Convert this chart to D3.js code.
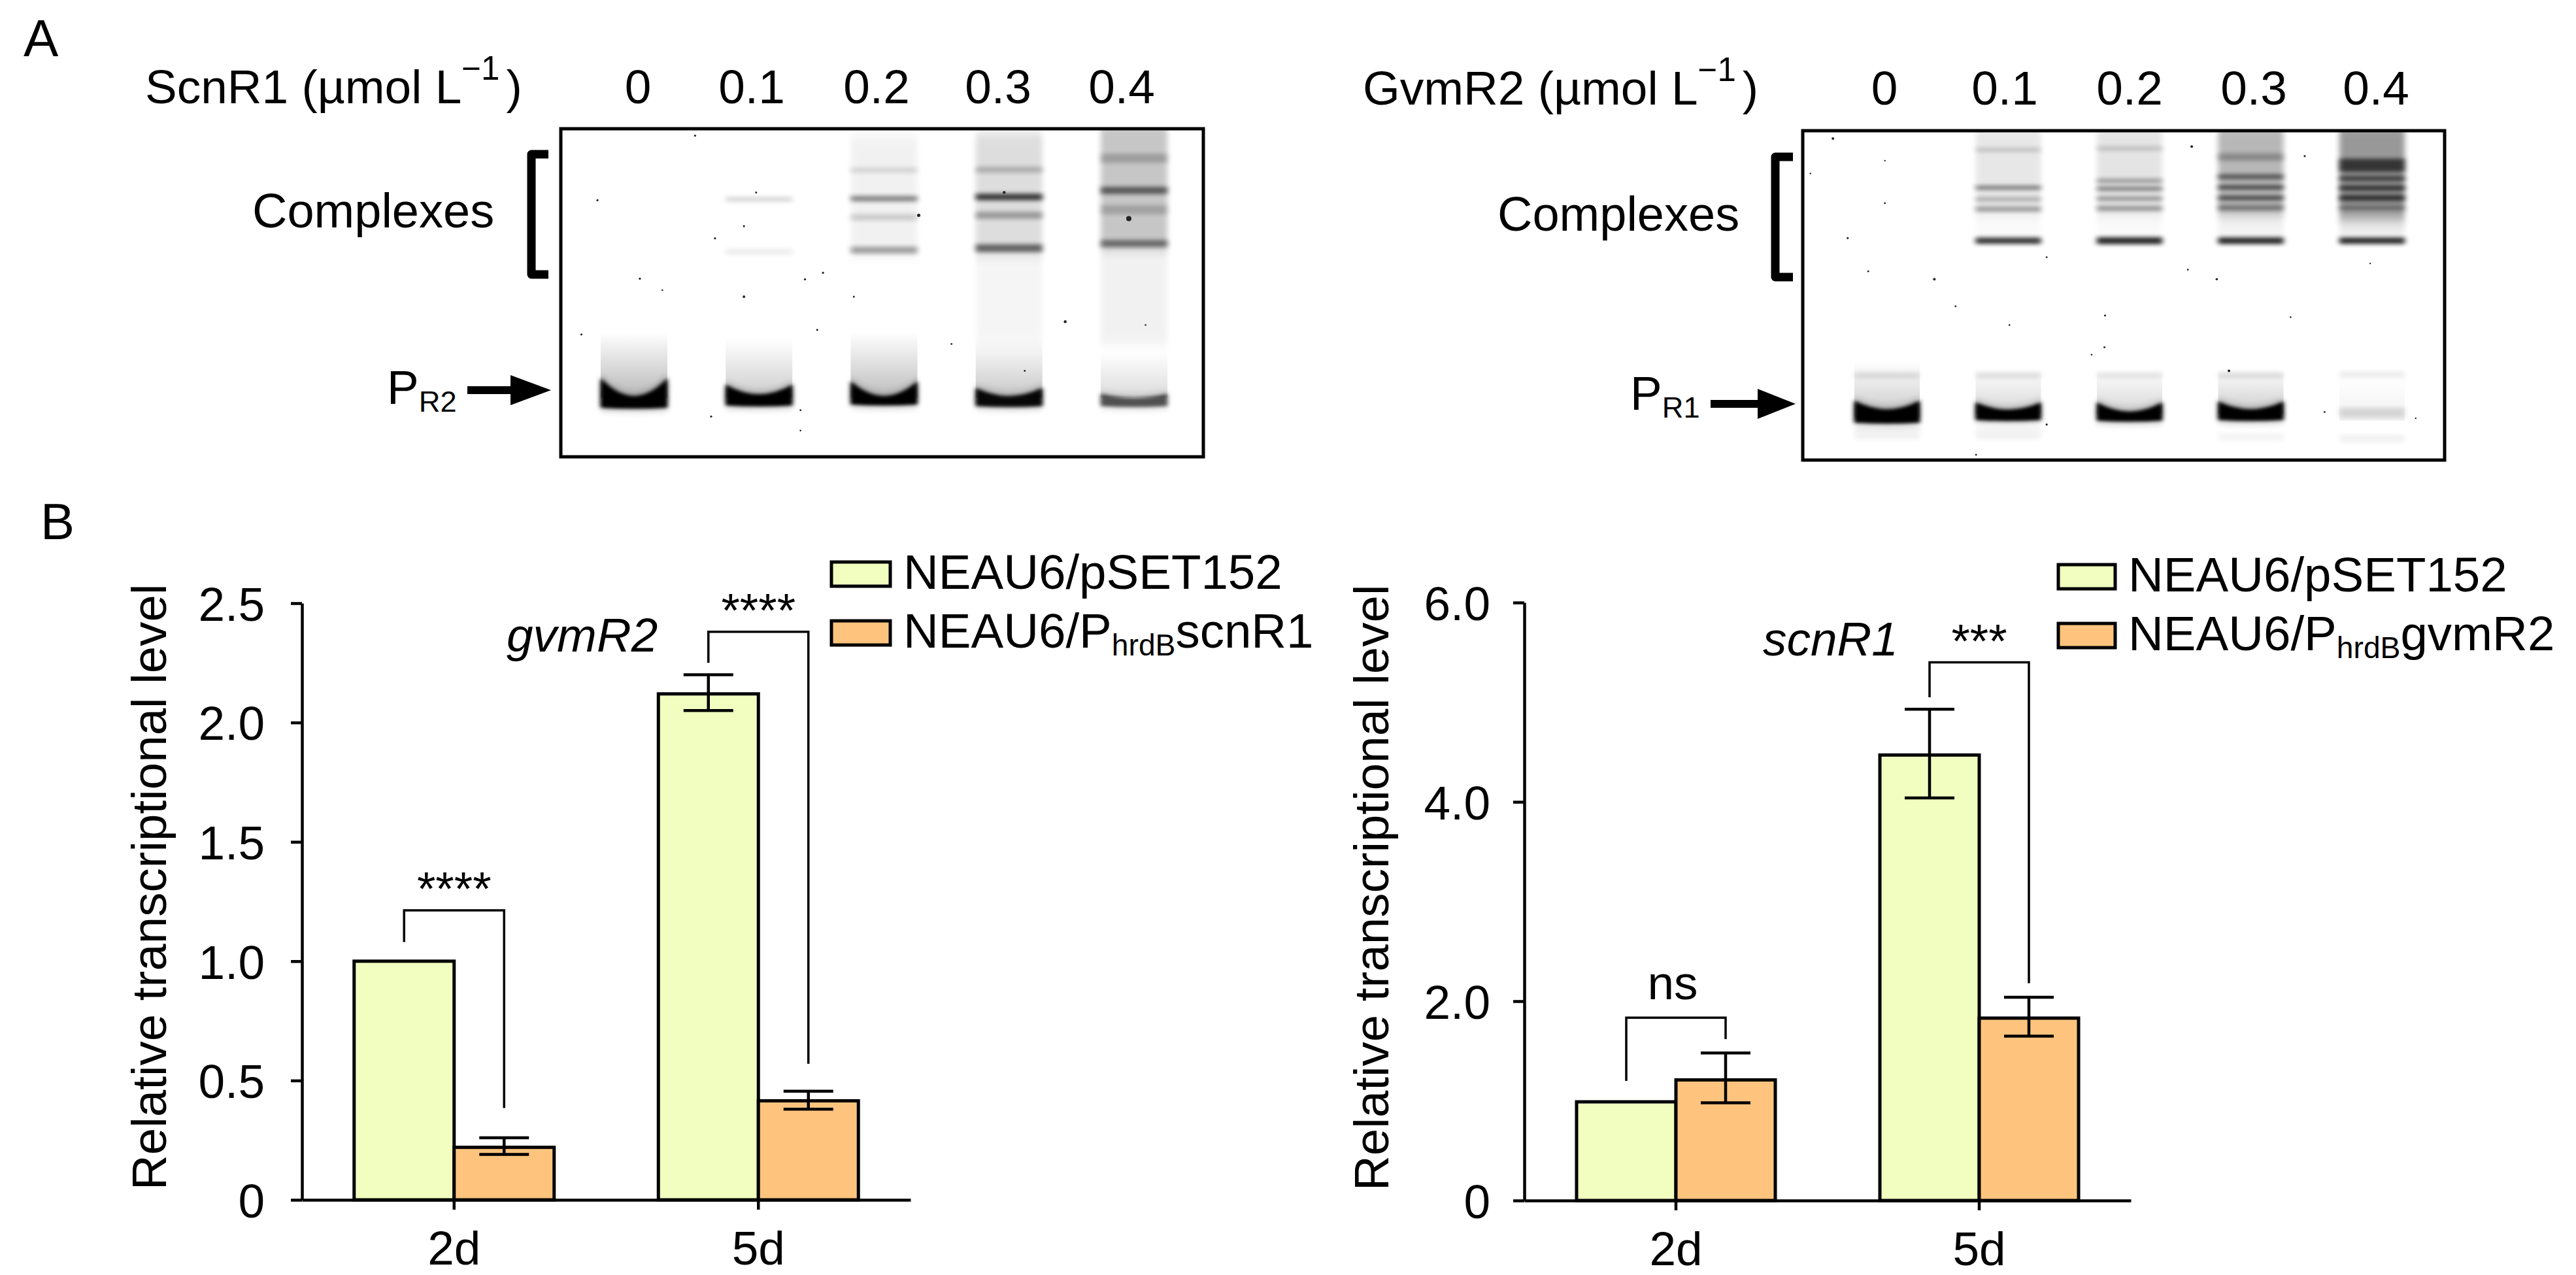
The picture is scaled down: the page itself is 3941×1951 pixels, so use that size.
<!DOCTYPE html>
<html>
<head>
<meta charset="utf-8">
<script src="https://cdn.jsdelivr.net/npm/d3@7"></script>
<style>
  body { margin: 0; background: #fff; }
  text { font-family: "Liberation Sans", Arial, sans-serif; fill: #000; }
</style>
</head>
<body>
<div id="chart"></div>
<script>
// ---- gel lanes
const concentrations = ["0", "0.1", "0.2", "0.3", "0.4"];

// band rows: lane, position (% of gel height), thickness (%), darkness
const gel1Bands = [
  [1, 21.5, 1.6, .14], [1, 37.5, 1.8, .07],
  [2, 12.6, 1.6, .12], [2, 21.3, 1.7, .45], [2, 27, 2, .15], [2, 37, 2.2, .33],
  [3, 12.5, 1.8, .22], [3, 20.8, 2, .75], [3, 26.4, 2.2, .3], [3, 36.4, 2.4, .55],
  [4, 9, 2.8, .2], [4, 18.8, 2.2, .55], [4, 24.7, 2.8, .18], [4, 35, 2.2, .48]
];
const gel2Bands = [
  [1, 5.8, 1.3, .16], [1, 17.3, 1.2, .5], [1, 20.8, 1.3, .26], [1, 23.8, 1.5, .35], [1, 33.4, 1.9, .8],
  [2, 5.4, 1.3, .16], [2, 15.2, 1.1, .38], [2, 17.6, 1.2, .48], [2, 20.6, 1.2, .38], [2, 23.6, 1.5, .36], [2, 33.4, 2.1, .85],
  [3, 8, 2.2, .25], [3, 14, 1.5, .55], [3, 17.2, 1.3, .65], [3, 20.4, 1.3, .65], [3, 23.4, 1.6, .4], [3, 33.4, 2, .85],
  [4, 10.5, 4, .65], [4, 14.5, 1.6, .6], [4, 17.4, 1.6, .7], [4, 20.4, 1.8, .7], [4, 23.4, 1.4, .35], [4, 33.4, 1.9, .85],
  [0, 74.3, 1.8, .1], [1, 74.3, 1.8, .1], [2, 74.3, 1.8, .08], [3, 74.3, 1.8, .1], [4, 74, 2, .07],
  [4, 85.6, 3, .13], [4, 93.5, 2.4, .05],
  [0, 92, 3.4, .05], [1, 92, 3.4, .05], [3, 93, 2.4, .04]
];

// smears: lane, top %, bottom %, darkness
const gel1Smears = [
  [2, 2, 39, .05], [3, 1, 39, .13], [3, 39, 66, .035], [4, -2, 37, .22], [4, 37, 66, .05]
];
const gel2Smears = [
  [1, -2, 26, .09], [2, -2, 26, .1], [3, -2, 26, .28], [4, -2, 27, .4],
  [1, 27, 33, .02], [2, 27, 33, .02], [3, 27, 33, .05], [4, 27, 33, .07]
];

// haze fading upward from the free probe: lane, top %, bottom %, darkness at the bottom
const gel1Halo = [[0, 62, 82, .28], [1, 64, 82, .2], [2, 62, 82, .26], [3, 64, 82, .22], [4, 68, 82, .14]];
const gel2Halo = [[0, 70, 87, .22], [1, 72, 86, .16], [2, 72, 86, .16], [3, 72, 86, .2], [4, 74, 88, .05]];

// main free-probe band: lane, top %, bottom %, dip of the top edge %, darkness
const gel1Free = [[0, 76, 85, 5.5, 1], [1, 78, 84.3, 3, 1], [2, 77, 84, 4.5, 1], [3, 79, 84.5, 2.5, .95], [4, 80.8, 84.5, 1.2, .6]];
const gel2Free = [[0, 82, 88.6, 2.6, 1], [1, 82.5, 87.8, 2.2, 1], [2, 82.5, 88, 2.8, 1], [3, 82.2, 87.8, 2.4, 1]];

// dust on the scans: x %, y %, radius
const gel1Specks = [[20.9,2.1,1.6],[5.7,21.8,1.6],[24,33.4,1.6],[28.5,29.7,1.6],[55.7,26.4,2.5],[88.4,27.4,4],[12.3,45.7,1.6],[38,45.9,1.6],[40.8,43.9,1.6],[15.8,49.2,1.3],[28.5,51.2,2],[45.6,51.2,1.5],[39.9,61.3,1.6],[3.2,62.7,1.6],[60.8,65.6,1.4],[78.5,58.8,2.2],[23.4,87.7,1.6],[37.3,85.8,1.4],[37.3,92,1.3],[69,19.4,2.2],[30.4,19.4,1.5],[72.2,73.8,1.4],[91,59.8,1.3]];
const gel2Specks = [[4.7,2.4,2],[12.8,9.1,1.2],[1.2,13,1.2],[12.8,22,1.4],[7,32.6,1.6],[60.6,4.8,2],[78.2,7.7,1.6],[20.5,45.1,2],[10.2,42.7,1.4],[38,38.4,1.4],[64.5,45.1,1.8],[47.1,56.1,1.6],[23.8,53.3,1.4],[32.2,59,1.3],[47,65.7,1.5],[66.4,72.9,2],[81.3,85.4,1.4],[38,89.2,1.6],[27,98.4,1.4],[95.5,87.3,1.2],[76,56.6,1.3],[45,68,1.3],[60,42.2,1.4],[88.4,40.3,1.2]];

// ---- bar charts
const days = ["2d", "5d"];
const seriesKeys = ["control", "over"];

const gvmControl = [1.0, 2.12];
const gvmControlHi = [null, 2.2];
const gvmControlLo = [null, 2.05];
const gvmOver = [0.22, 0.415];
const gvmOverHi = [0.26, 0.455];
const gvmOverLo = [0.19, 0.38];
const gvmTicks = [0, 0.5, 1.0, 1.5, 2.0, 2.5];
const gvmSig = ["****", "****"];
const gvmBracketTop = [1.213, 2.38];
const gvmBracketLeft = [1.08, 2.25];
const gvmBracketRight = [0.385, 0.57];

const scnControl = [0.99, 4.47];
const scnControlHi = [null, 4.93];
const scnControlLo = [null, 4.04];
const scnOver = [1.21, 1.83];
const scnOverHi = [1.48, 2.04];
const scnOverLo = [0.98, 1.65];
const scnTicks = [0, 2.0, 4.0, 6.0];
const scnSig = ["ns", "***"];
const scnBracketTop = [1.835, 5.4];
const scnBracketLeft = [1.2, 5.05];
const scnBracketRight = [1.62, 2.18];

const colorControl = "#f1fec0";
const colorOver = "#fec47e";
const fs = 73;

const svg = d3.select("#chart").append("svg")
  .attr("width", 3941).attr("height", 1951)
  .style("display", "block");

const defs = svg.append("defs");
[["blurBand", "4 3"], ["blurSmear", "4 9"], ["blurFree", "3 2.5"], ["blurFreeSoft", "5 7"]].forEach(function (b) {
  defs.append("filter").attr("id", b[0])
    .attr("x", "-30%").attr("y", "-300%").attr("width", "160%").attr("height", "700%")
    .append("feGaussianBlur").attr("stdDeviation", b[1]);
});
const fade = defs.append("linearGradient").attr("id", "fadeUp").attr("x1", 0).attr("x2", 0).attr("y1", 0).attr("y2", 1);
fade.append("stop").attr("offset", "0%").attr("stop-color", "#000").attr("stop-opacity", 0);
fade.append("stop").attr("offset", "100%").attr("stop-color", "#000").attr("stop-opacity", 1);

// text with sub / superscript runs, parts are [string, "sub" | "sup" | undefined]
function richText(x, y, parts, size, anchor, italic) {
  const t = svg.append("text").attr("x", x).attr("y", y)
    .attr("font-size", size).attr("text-anchor", anchor || "start")
    .attr("font-style", italic ? "italic" : "normal");
  let shift = 0;
  parts.forEach(function (p) {
    const target = p[1] === "sub" ? size * 0.16 : p[1] === "sup" ? -size * 0.5 : 0;
    t.append("tspan").attr("dy", target - shift)
      .attr("font-size", p[1] === "sup" ? size * 0.7 : p[1] ? size * 0.62 : size)
      .text(p[0]);
    shift = target;
  });
  return t;
}

function drawGel(cfg) {
  const g = svg.append("g");
  const x = d3.scalePoint().domain(d3.range(5)).range(cfg.lanes);
  const xPct = d3.scaleLinear().domain([0, 100]).range([cfg.x0, cfg.x1]);
  const y = d3.scaleLinear().domain([0, 100]).range([cfg.y0, cfg.y1]);
  const laneW = cfg.laneW;

  const clipId = "clip" + cfg.x0;
  defs.append("clipPath").attr("id", clipId).append("rect")
    .attr("x", cfg.x0).attr("y", cfg.y0)
    .attr("width", cfg.x1 - cfg.x0).attr("height", cfg.y1 - cfg.y0);
  const inner = g.append("g").attr("clip-path", "url(#" + clipId + ")");

  inner.selectAll("rect.smear").data(cfg.smears).join("rect")
    .attr("class", "smear")
    .attr("x", d => x(d[0]) - laneW / 2).attr("width", laneW)
    .attr("y", d => y(d[1])).attr("height", d => y(d[2]) - y(d[1]))
    .attr("fill", "#000").attr("opacity", d => d[3])
    .attr("filter", "url(#blurSmear)");

  inner.selectAll("rect.halo").data(cfg.halo).join("rect")
    .attr("class", "halo")
    .attr("x", d => x(d[0]) - laneW / 2).attr("width", laneW)
    .attr("y", d => y(d[1])).attr("height", d => y(d[2]) - y(d[1]))
    .attr("fill", "url(#fadeUp)").attr("opacity", d => d[3]);

  inner.selectAll("rect.band").data(cfg.bands).join("rect")
    .attr("class", "band")
    .attr("x", d => x(d[0]) - laneW / 2).attr("width", laneW)
    .attr("y", d => y(d[1] - d[2] / 2)).attr("height", d => y(d[2]) - y(0))
    .attr("fill", "#000").attr("opacity", d => d[3])
    .attr("filter", "url(#blurBand)");

  const freePath = function (d) {
    const p = d3.path();
    const l = x(d[0]) - laneW / 2, r = x(d[0]) + laneW / 2, c = x(d[0]);
    p.moveTo(l, y(d[1]));
    p.quadraticCurveTo(c, y(d[1] + 2 * d[3]), r, y(d[1]));
    p.lineTo(r, y(d[2]));
    p.quadraticCurveTo(c, y(d[2] + 0.6), l, y(d[2]));
    p.closePath();
    return p.toString();
  };
  // soft skirt under the sharp band
  inner.selectAll("path.skirt").data(cfg.free).join("path")
    .attr("class", "skirt").attr("d", freePath)
    .attr("fill", "#000").attr("opacity", d => d[4] * 0.45)
    .attr("filter", "url(#blurFreeSoft)");
  inner.selectAll("path.free").data(cfg.free).join("path")
    .attr("class", "free").attr("d", freePath)
    .attr("fill", "#000").attr("opacity", d => d[4])
    .attr("filter", "url(#blurFree)");

  inner.selectAll("circle").data(cfg.specks).join("circle")
    .attr("cx", d => xPct(d[0])).attr("cy", d => y(d[1])).attr("r", d => d[2])
    .attr("fill", "#222");

  g.append("rect")
    .attr("x", cfg.x0).attr("y", cfg.y0)
    .attr("width", cfg.x1 - cfg.x0).attr("height", cfg.y1 - cfg.y0)
    .attr("fill", "none").attr("stroke", "#000").attr("stroke-width", 5);

  // concentration header
  const head = richText(cfg.titleX, cfg.labelY, [[cfg.title + " (µmol L"], ["−1", "sup"], [")"]], fs);
  head.selectAll("tspan").filter((d, i) => i === 2).attr("dx", 10);
  const lx = d3.scaleOrdinal().domain(concentrations).range(cfg.labelX);
  g.selectAll("text.conc").data(concentrations).join("text")
    .attr("class", "conc")
    .attr("x", d => lx(d)).attr("y", cfg.labelY)
    .attr("text-anchor", "middle").attr("font-size", fs)
    .text(d => d);

  // complexes label and bracket
  g.append("text").attr("x", cfg.compX).attr("y", cfg.compY).attr("font-size", 74).text("Complexes");
  g.append("path")
    .attr("d", "M" + cfg.brX1 + "," + cfg.brY0 + "H" + cfg.brX0 + "V" + cfg.brY1 + "H" + cfg.brX1)
    .attr("fill", "none").attr("stroke", "#000").attr("stroke-width", 13).attr("stroke-linejoin", "round");

  // free probe label and arrow
  richText(cfg.pX, cfg.pY, [["P"], [cfg.probe, "sub"]], fs);
  const a = cfg.arrow;
  g.append("path")
    .attr("d", "M" + a.x0 + "," + (a.y - 6) + "H" + a.xh + "V" + (a.y - 23) + "L" + a.x1 + "," + a.y +
      "L" + a.xh + "," + (a.y + 23) + "V" + (a.y + 6) + "H" + a.x0 + "Z")
    .attr("fill", "#000");
}

drawGel({
  x0: 858, x1: 1841, y0: 197, y1: 699,
  lanes: [970, 1735], laneW: 102,
  labelX: [976, 1150, 1341, 1527, 1716], labelY: 158,
  title: "ScnR1", titleX: 222,
  bands: gel1Bands, smears: gel1Smears, halo: gel1Halo, free: gel1Free, specks: gel1Specks,
  compX: 386, compY: 348,
  brX0: 813, brX1: 839, brY0: 236, brY1: 420,
  pX: 592, pY: 618, probe: "R2",
  arrow: { x0: 715, xh: 781, x1: 843, y: 597 }
});

drawGel({
  x0: 2758, x1: 3740, y0: 200, y1: 704,
  lanes: [2887, 3629], laneW: 100,
  labelX: [2883, 3067, 3258, 3448, 3635], labelY: 160,
  title: "GvmR2", titleX: 2085,
  bands: gel2Bands, smears: gel2Smears, halo: gel2Halo, free: gel2Free, specks: gel2Specks,
  compX: 2291, compY: 353,
  brX0: 2716, brX1: 2743, brY0: 240, brY1: 424,
  pX: 2494, pY: 627, probe: "R1",
  arrow: { x0: 2617, xh: 2689, x1: 2747, y: 618 }
});

function drawBars(cfg) {
  const g = svg.append("g");
  const x = d3.scaleBand().domain(days).range([cfg.x0, cfg.x1]);
  const y = d3.scaleLinear().domain([0, d3.max(cfg.ticks)]).range([cfg.y0, cfg.y1]);
  const bw = cfg.barW;

  const rows = [];
  days.forEach(function (day, i) {
    rows.push({ day: day, key: seriesKeys[0], off: -bw, v: cfg.control[i], hi: cfg.controlHi[i], lo: cfg.controlLo[i] });
    rows.push({ day: day, key: seriesKeys[1], off: 0, v: cfg.over[i], hi: cfg.overHi[i], lo: cfg.overLo[i] });
  });

  g.selectAll("rect.bar").data(rows).join("rect")
    .attr("class", "bar")
    .attr("x", d => x(d.day) + x.bandwidth() / 2 + d.off)
    .attr("y", d => y(d.v))
    .attr("width", bw)
    .attr("height", d => y(0) - y(d.v))
    .attr("fill", d => d.key === "control" ? colorControl : colorOver)
    .attr("stroke", "#000").attr("stroke-width", 5);

  // error bars
  const err = rows.filter(d => d.hi !== null);
  const cx = d => x(d.day) + x.bandwidth() / 2 + d.off + bw / 2;
  g.selectAll("line.stem").data(err).join("line").attr("class", "stem")
    .attr("x1", cx).attr("x2", cx)
    .attr("y1", d => y(d.hi)).attr("y2", d => y(d.lo))
    .attr("stroke", "#000").attr("stroke-width", 4.5);
  ["hi", "lo"].forEach(function (k) {
    g.selectAll("line.cap" + k).data(err).join("line").attr("class", "cap" + k)
      .attr("x1", d => cx(d) - 38).attr("x2", d => cx(d) + 38)
      .attr("y1", d => y(d[k])).attr("y2", d => y(d[k]))
      .attr("stroke", "#000").attr("stroke-width", 4.5);
  });

  // axes
  const yAxis = d3.axisLeft(y).tickValues(cfg.ticks).tickSize(17).tickSizeOuter(0).tickPadding(cfg.tickPad)
    .tickFormat(d => d === 0 ? "0" : d.toFixed(1));
  const yg = g.append("g").attr("transform", "translate(" + cfg.x0 + ",0)").call(yAxis);
  const xAxis = d3.axisBottom(x).tickSize(15).tickSizeOuter(0).tickPadding(32);
  const xg = g.append("g").attr("transform", "translate(0," + cfg.y0 + ")").call(xAxis);
  [yg, xg].forEach(function (a) {
    a.selectAll("path,line").attr("stroke", "#000").attr("stroke-width", 4.5);
    a.selectAll("text").attr("font-size", fs).attr("font-family", "Liberation Sans").attr("fill", "#000");
  });
  yg.selectAll("text").attr("dy", "0.36em");
  xg.selectAll("text").attr("dy", "0.71em");

  g.append("text")
    .attr("transform", "translate(" + cfg.titleX + "," + cfg.titleY + ") rotate(-90)")
    .attr("font-size", 74.5).text("Relative transcriptional level");

  // significance brackets
  days.forEach(function (day, i) {
    const c = x(day) + x.bandwidth() / 2;
    const l = c - bw / 2, r = c + bw / 2;
    g.append("path")
      .attr("d", "M" + l + "," + y(cfg.brLeft[i]) + "V" + y(cfg.brTop[i]) + "H" + r + "V" + y(cfg.brRight[i]))
      .attr("fill", "none").attr("stroke", "#000").attr("stroke-width", 3.5);
    g.append("text")
      .attr("x", c + cfg.sigDx[i]).attr("y", y(cfg.brTop[i]) + cfg.sigDy[i])
      .attr("text-anchor", "middle").attr("font-size", fs).text(cfg.sig[i]);
  });

  richText(cfg.geneX, cfg.geneY, [[cfg.gene]], fs, "start", true);

  // legend
  cfg.legend.forEach(function (l, i) {
    g.append("rect")
      .attr("x", cfg.legX).attr("y", cfg.legY[i] - 41)
      .attr("width", cfg.legW).attr("height", 37)
      .attr("fill", i === 0 ? colorControl : colorOver)
      .attr("stroke", "#000").attr("stroke-width", 5);
    richText(cfg.legX + cfg.legW + cfg.legGap, cfg.legY[i], l, 74.5);
  });
}

drawBars({
  x0: 462, x1: 1393, y0: 1836, y1: 923, barW: 153, tickPad: 40,
  ticks: gvmTicks, control: gvmControl, controlHi: gvmControlHi, controlLo: gvmControlLo,
  over: gvmOver, overHi: gvmOverHi, overLo: gvmOverLo,
  sig: gvmSig, brTop: gvmBracketTop, brLeft: gvmBracketLeft, brRight: gvmBracketRight,
  sigDx: [0, 0], sigDy: [-8, -8],
  titleX: 254, titleY: 1821,
  gene: "gvmR2", geneX: 775, geneY: 997,
  legend: [[["NEAU6/pSET152"]], [["NEAU6/P"], ["hrdB", "sub"], ["scnR1"]]],
  legX: 1272, legW: 90, legGap: 20, legY: [901, 991]
});

drawBars({
  x0: 2332, x1: 3260, y0: 1837, y1: 922, barW: 152, tickPad: 35,
  ticks: scnTicks, control: scnControl, controlHi: scnControlHi, controlLo: scnControlLo,
  over: scnOver, overHi: scnOverHi, overLo: scnOverLo,
  sig: scnSig, brTop: scnBracketTop, brLeft: scnBracketLeft, brRight: scnBracketRight,
  sigDx: [-5, 0], sigDy: [-28, -8],
  titleX: 2124, titleY: 1822,
  gene: "scnR1", geneX: 2697, geneY: 1003,
  legend: [[["NEAU6/pSET152"]], [["NEAU6/P"], ["hrdB", "sub"], ["gvmR2"]]],
  legX: 3149, legW: 87, legGap: 20, legY: [905, 995]
});

// panel letters
svg.append("text").attr("x", 36).attr("y", 86).attr("font-size", 80).text("A");
svg.append("text").attr("x", 62).attr("y", 825).attr("font-size", 78).text("B");
</script>
</body>
</html>
